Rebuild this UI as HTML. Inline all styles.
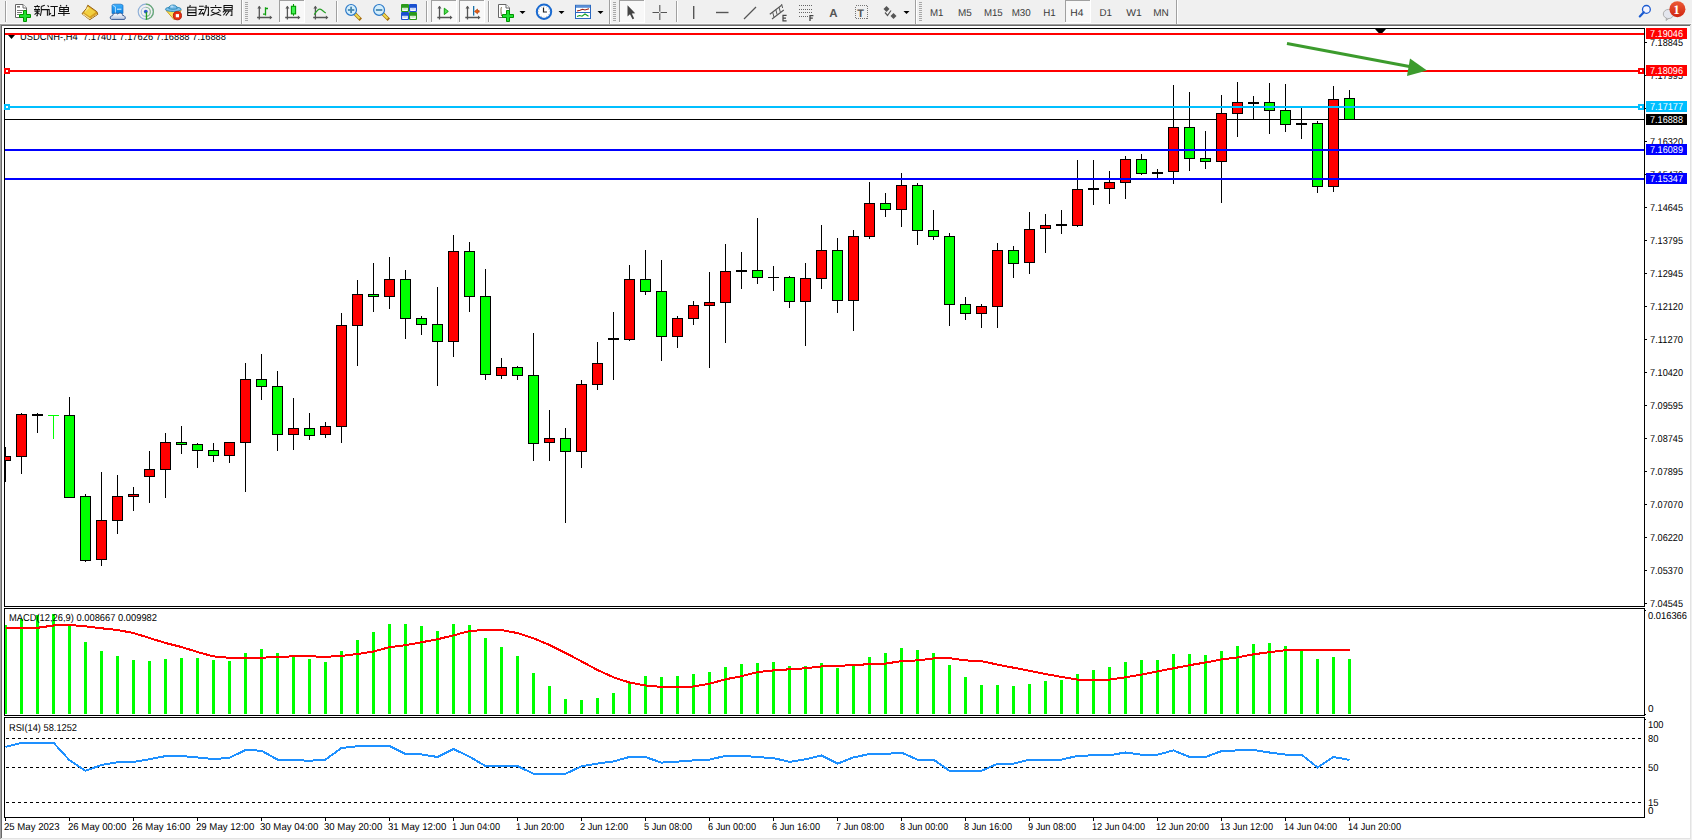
<!DOCTYPE html><html><head><meta charset="utf-8"><style>
html,body{margin:0;padding:0;width:1692px;height:840px;overflow:hidden;background:#f0f0f0;}
svg{display:block;font-family:"Liberation Sans", sans-serif;} text{text-rendering:geometricPrecision;}
</style></head><body>
<svg width="1692" height="840" viewBox="0 0 1692 840" shape-rendering="crispEdges">
<rect x="0" y="0" width="1692" height="840" fill="#f0f0f0"/>
<rect x="0" y="24" width="1691" height="1" fill="#a0a0a0"/>
<rect x="0" y="24" width="1" height="815" fill="#a0a0a0"/>
<rect x="1" y="25" width="1690" height="1" fill="#696969"/>
<rect x="1" y="25" width="1" height="813" fill="#696969"/>
<rect x="0" y="23" width="1692" height="1" fill="#f8f8f8"/>
<rect x="2" y="26" width="1688" height="812" fill="#ffffff"/>
<rect x="1690" y="25" width="1" height="814" fill="#e3e3e3"/>
<rect x="1" y="838" width="1690" height="1" fill="#e3e3e3"/>
<rect x="4" y="28" width="1641" height="1" fill="#000"/>
<rect x="4" y="606" width="1641" height="1" fill="#000"/>
<rect x="4" y="28" width="1" height="579" fill="#000"/>
<rect x="1644" y="28" width="1" height="579" fill="#000"/>
<rect x="4" y="608" width="1641" height="1" fill="#000"/>
<rect x="4" y="715" width="1641" height="1" fill="#000"/>
<rect x="4" y="608" width="1" height="108" fill="#000"/>
<rect x="1644" y="608" width="1" height="108" fill="#000"/>
<rect x="4" y="717" width="1641" height="1" fill="#000"/>
<rect x="4" y="817" width="1641" height="1" fill="#000"/>
<rect x="4" y="717" width="1" height="101" fill="#000"/>
<rect x="1644" y="717" width="1" height="101" fill="#000"/>
<defs><clipPath id="cm"><rect x="5" y="29" width="1639" height="577"/></clipPath>
<clipPath id="cmacd"><rect x="5" y="609" width="1639" height="105"/></clipPath>
<clipPath id="crsi"><rect x="5" y="718" width="1639" height="99"/></clipPath></defs>
<g clip-path="url(#cm)">
<rect x="5" y="119" width="1639" height="1" fill="#000"/>
<rect x="5" y="447" width="1" height="35" fill="#000"/>
<rect x="0" y="456" width="11" height="5" fill="#000"/>
<rect x="1" y="457" width="9" height="3" fill="#ff0000"/>
<rect x="21" y="413" width="1" height="61" fill="#000"/>
<rect x="16" y="414" width="11" height="43" fill="#000"/>
<rect x="17" y="415" width="9" height="41" fill="#ff0000"/>
<rect x="37" y="413" width="1" height="20" fill="#000"/>
<rect x="32" y="414" width="11" height="2" fill="#000"/>
<rect x="53" y="415" width="1" height="24" fill="#00ff00"/>
<rect x="48" y="415" width="11" height="1" fill="#00ff00"/>
<rect x="69" y="397" width="1" height="101" fill="#000"/>
<rect x="64" y="415" width="11" height="83" fill="#000"/>
<rect x="65" y="416" width="9" height="81" fill="#00ff00"/>
<rect x="85" y="494" width="1" height="68" fill="#000"/>
<rect x="80" y="496" width="11" height="65" fill="#000"/>
<rect x="81" y="497" width="9" height="63" fill="#00ff00"/>
<rect x="101" y="472" width="1" height="94" fill="#000"/>
<rect x="96" y="520" width="11" height="40" fill="#000"/>
<rect x="97" y="521" width="9" height="38" fill="#ff0000"/>
<rect x="117" y="475" width="1" height="59" fill="#000"/>
<rect x="112" y="496" width="11" height="25" fill="#000"/>
<rect x="113" y="497" width="9" height="23" fill="#ff0000"/>
<rect x="133" y="487" width="1" height="24" fill="#000"/>
<rect x="128" y="494" width="11" height="3" fill="#000"/>
<rect x="129" y="495" width="9" height="1" fill="#ff0000"/>
<rect x="149" y="451" width="1" height="52" fill="#000"/>
<rect x="144" y="469" width="11" height="8" fill="#000"/>
<rect x="145" y="470" width="9" height="6" fill="#ff0000"/>
<rect x="165" y="433" width="1" height="65" fill="#000"/>
<rect x="160" y="442" width="11" height="28" fill="#000"/>
<rect x="161" y="443" width="9" height="26" fill="#ff0000"/>
<rect x="181" y="426" width="1" height="28" fill="#000"/>
<rect x="176" y="442" width="11" height="3" fill="#000"/>
<rect x="177" y="443" width="9" height="1" fill="#00ff00"/>
<rect x="197" y="443" width="1" height="25" fill="#000"/>
<rect x="192" y="444" width="11" height="7" fill="#000"/>
<rect x="193" y="445" width="9" height="5" fill="#00ff00"/>
<rect x="213" y="443" width="1" height="19" fill="#000"/>
<rect x="208" y="450" width="11" height="6" fill="#000"/>
<rect x="209" y="451" width="9" height="4" fill="#00ff00"/>
<rect x="229" y="442" width="1" height="21" fill="#000"/>
<rect x="224" y="442" width="11" height="14" fill="#000"/>
<rect x="225" y="443" width="9" height="12" fill="#ff0000"/>
<rect x="245" y="363" width="1" height="129" fill="#000"/>
<rect x="240" y="379" width="11" height="64" fill="#000"/>
<rect x="241" y="380" width="9" height="62" fill="#ff0000"/>
<rect x="261" y="354" width="1" height="46" fill="#000"/>
<rect x="256" y="379" width="11" height="8" fill="#000"/>
<rect x="257" y="380" width="9" height="6" fill="#00ff00"/>
<rect x="277" y="371" width="1" height="80" fill="#000"/>
<rect x="272" y="386" width="11" height="49" fill="#000"/>
<rect x="273" y="387" width="9" height="47" fill="#00ff00"/>
<rect x="293" y="398" width="1" height="52" fill="#000"/>
<rect x="288" y="428" width="11" height="7" fill="#000"/>
<rect x="289" y="429" width="9" height="5" fill="#ff0000"/>
<rect x="309" y="413" width="1" height="27" fill="#000"/>
<rect x="304" y="428" width="11" height="8" fill="#000"/>
<rect x="305" y="429" width="9" height="6" fill="#00ff00"/>
<rect x="325" y="422" width="1" height="16" fill="#000"/>
<rect x="320" y="426" width="11" height="9" fill="#000"/>
<rect x="321" y="427" width="9" height="7" fill="#ff0000"/>
<rect x="341" y="313" width="1" height="130" fill="#000"/>
<rect x="336" y="325" width="11" height="102" fill="#000"/>
<rect x="337" y="326" width="9" height="100" fill="#ff0000"/>
<rect x="357" y="280" width="1" height="86" fill="#000"/>
<rect x="352" y="294" width="11" height="32" fill="#000"/>
<rect x="353" y="295" width="9" height="30" fill="#ff0000"/>
<rect x="373" y="263" width="1" height="49" fill="#000"/>
<rect x="368" y="294" width="11" height="3" fill="#000"/>
<rect x="369" y="295" width="9" height="1" fill="#00ff00"/>
<rect x="389" y="257" width="1" height="52" fill="#000"/>
<rect x="384" y="279" width="11" height="18" fill="#000"/>
<rect x="385" y="280" width="9" height="16" fill="#ff0000"/>
<rect x="405" y="270" width="1" height="69" fill="#000"/>
<rect x="400" y="279" width="11" height="40" fill="#000"/>
<rect x="401" y="280" width="9" height="38" fill="#00ff00"/>
<rect x="421" y="316" width="1" height="19" fill="#000"/>
<rect x="416" y="318" width="11" height="7" fill="#000"/>
<rect x="417" y="319" width="9" height="5" fill="#00ff00"/>
<rect x="437" y="287" width="1" height="99" fill="#000"/>
<rect x="432" y="324" width="11" height="18" fill="#000"/>
<rect x="433" y="325" width="9" height="16" fill="#00ff00"/>
<rect x="453" y="235" width="1" height="122" fill="#000"/>
<rect x="448" y="251" width="11" height="91" fill="#000"/>
<rect x="449" y="252" width="9" height="89" fill="#ff0000"/>
<rect x="469" y="242" width="1" height="70" fill="#000"/>
<rect x="464" y="251" width="11" height="46" fill="#000"/>
<rect x="465" y="252" width="9" height="44" fill="#00ff00"/>
<rect x="485" y="269" width="1" height="111" fill="#000"/>
<rect x="480" y="296" width="11" height="79" fill="#000"/>
<rect x="481" y="297" width="9" height="77" fill="#00ff00"/>
<rect x="501" y="358" width="1" height="21" fill="#000"/>
<rect x="496" y="367" width="11" height="9" fill="#000"/>
<rect x="497" y="368" width="9" height="7" fill="#ff0000"/>
<rect x="517" y="366" width="1" height="14" fill="#000"/>
<rect x="512" y="367" width="11" height="9" fill="#000"/>
<rect x="513" y="368" width="9" height="7" fill="#00ff00"/>
<rect x="533" y="333" width="1" height="128" fill="#000"/>
<rect x="528" y="375" width="11" height="69" fill="#000"/>
<rect x="529" y="376" width="9" height="67" fill="#00ff00"/>
<rect x="549" y="410" width="1" height="51" fill="#000"/>
<rect x="544" y="438" width="11" height="5" fill="#000"/>
<rect x="545" y="439" width="9" height="3" fill="#ff0000"/>
<rect x="565" y="428" width="1" height="95" fill="#000"/>
<rect x="560" y="438" width="11" height="14" fill="#000"/>
<rect x="561" y="439" width="9" height="12" fill="#00ff00"/>
<rect x="581" y="380" width="1" height="88" fill="#000"/>
<rect x="576" y="384" width="11" height="68" fill="#000"/>
<rect x="577" y="385" width="9" height="66" fill="#ff0000"/>
<rect x="597" y="342" width="1" height="48" fill="#000"/>
<rect x="592" y="363" width="11" height="22" fill="#000"/>
<rect x="593" y="364" width="9" height="20" fill="#ff0000"/>
<rect x="613" y="312" width="1" height="68" fill="#000"/>
<rect x="608" y="338" width="11" height="2" fill="#000"/>
<rect x="629" y="265" width="1" height="76" fill="#000"/>
<rect x="624" y="279" width="11" height="61" fill="#000"/>
<rect x="625" y="280" width="9" height="59" fill="#ff0000"/>
<rect x="645" y="250" width="1" height="45" fill="#000"/>
<rect x="640" y="279" width="11" height="13" fill="#000"/>
<rect x="641" y="280" width="9" height="11" fill="#00ff00"/>
<rect x="661" y="260" width="1" height="101" fill="#000"/>
<rect x="656" y="291" width="11" height="46" fill="#000"/>
<rect x="657" y="292" width="9" height="44" fill="#00ff00"/>
<rect x="677" y="316" width="1" height="32" fill="#000"/>
<rect x="672" y="318" width="11" height="19" fill="#000"/>
<rect x="673" y="319" width="9" height="17" fill="#ff0000"/>
<rect x="693" y="301" width="1" height="24" fill="#000"/>
<rect x="688" y="305" width="11" height="14" fill="#000"/>
<rect x="689" y="306" width="9" height="12" fill="#ff0000"/>
<rect x="709" y="272" width="1" height="96" fill="#000"/>
<rect x="704" y="302" width="11" height="4" fill="#000"/>
<rect x="705" y="303" width="9" height="2" fill="#ff0000"/>
<rect x="725" y="244" width="1" height="99" fill="#000"/>
<rect x="720" y="271" width="11" height="32" fill="#000"/>
<rect x="721" y="272" width="9" height="30" fill="#ff0000"/>
<rect x="741" y="252" width="1" height="37" fill="#000"/>
<rect x="736" y="270" width="11" height="2" fill="#000"/>
<rect x="757" y="218" width="1" height="66" fill="#000"/>
<rect x="752" y="270" width="11" height="8" fill="#000"/>
<rect x="753" y="271" width="9" height="6" fill="#00ff00"/>
<rect x="773" y="266" width="1" height="25" fill="#000"/>
<rect x="768" y="277" width="11" height="1" fill="#000"/>
<rect x="789" y="276" width="1" height="32" fill="#000"/>
<rect x="784" y="277" width="11" height="25" fill="#000"/>
<rect x="785" y="278" width="9" height="23" fill="#00ff00"/>
<rect x="805" y="263" width="1" height="83" fill="#000"/>
<rect x="800" y="278" width="11" height="24" fill="#000"/>
<rect x="801" y="279" width="9" height="22" fill="#ff0000"/>
<rect x="821" y="225" width="1" height="64" fill="#000"/>
<rect x="816" y="250" width="11" height="29" fill="#000"/>
<rect x="817" y="251" width="9" height="27" fill="#ff0000"/>
<rect x="837" y="238" width="1" height="75" fill="#000"/>
<rect x="832" y="250" width="11" height="51" fill="#000"/>
<rect x="833" y="251" width="9" height="49" fill="#00ff00"/>
<rect x="853" y="230" width="1" height="101" fill="#000"/>
<rect x="848" y="236" width="11" height="65" fill="#000"/>
<rect x="849" y="237" width="9" height="63" fill="#ff0000"/>
<rect x="869" y="182" width="1" height="57" fill="#000"/>
<rect x="864" y="203" width="11" height="34" fill="#000"/>
<rect x="865" y="204" width="9" height="32" fill="#ff0000"/>
<rect x="885" y="193" width="1" height="24" fill="#000"/>
<rect x="880" y="203" width="11" height="7" fill="#000"/>
<rect x="881" y="204" width="9" height="5" fill="#00ff00"/>
<rect x="901" y="173" width="1" height="54" fill="#000"/>
<rect x="896" y="185" width="11" height="25" fill="#000"/>
<rect x="897" y="186" width="9" height="23" fill="#ff0000"/>
<rect x="917" y="183" width="1" height="62" fill="#000"/>
<rect x="912" y="185" width="11" height="46" fill="#000"/>
<rect x="913" y="186" width="9" height="44" fill="#00ff00"/>
<rect x="933" y="210" width="1" height="30" fill="#000"/>
<rect x="928" y="230" width="11" height="7" fill="#000"/>
<rect x="929" y="231" width="9" height="5" fill="#00ff00"/>
<rect x="949" y="233" width="1" height="93" fill="#000"/>
<rect x="944" y="236" width="11" height="69" fill="#000"/>
<rect x="945" y="237" width="9" height="67" fill="#00ff00"/>
<rect x="965" y="297" width="1" height="23" fill="#000"/>
<rect x="960" y="304" width="11" height="10" fill="#000"/>
<rect x="961" y="305" width="9" height="8" fill="#00ff00"/>
<rect x="981" y="304" width="1" height="24" fill="#000"/>
<rect x="976" y="306" width="11" height="8" fill="#000"/>
<rect x="977" y="307" width="9" height="6" fill="#ff0000"/>
<rect x="997" y="243" width="1" height="85" fill="#000"/>
<rect x="992" y="250" width="11" height="57" fill="#000"/>
<rect x="993" y="251" width="9" height="55" fill="#ff0000"/>
<rect x="1013" y="246" width="1" height="32" fill="#000"/>
<rect x="1008" y="250" width="11" height="14" fill="#000"/>
<rect x="1009" y="251" width="9" height="12" fill="#00ff00"/>
<rect x="1029" y="212" width="1" height="62" fill="#000"/>
<rect x="1024" y="229" width="11" height="34" fill="#000"/>
<rect x="1025" y="230" width="9" height="32" fill="#ff0000"/>
<rect x="1045" y="214" width="1" height="39" fill="#000"/>
<rect x="1040" y="225" width="11" height="4" fill="#000"/>
<rect x="1041" y="226" width="9" height="2" fill="#ff0000"/>
<rect x="1061" y="210" width="1" height="24" fill="#000"/>
<rect x="1056" y="224" width="11" height="2" fill="#000"/>
<rect x="1077" y="160" width="1" height="67" fill="#000"/>
<rect x="1072" y="189" width="11" height="37" fill="#000"/>
<rect x="1073" y="190" width="9" height="35" fill="#ff0000"/>
<rect x="1093" y="160" width="1" height="45" fill="#000"/>
<rect x="1088" y="188" width="11" height="2" fill="#000"/>
<rect x="1109" y="171" width="1" height="33" fill="#000"/>
<rect x="1104" y="182" width="11" height="7" fill="#000"/>
<rect x="1105" y="183" width="9" height="5" fill="#ff0000"/>
<rect x="1125" y="156" width="1" height="43" fill="#000"/>
<rect x="1120" y="159" width="11" height="24" fill="#000"/>
<rect x="1121" y="160" width="9" height="22" fill="#ff0000"/>
<rect x="1141" y="154" width="1" height="21" fill="#000"/>
<rect x="1136" y="159" width="11" height="15" fill="#000"/>
<rect x="1137" y="160" width="9" height="13" fill="#00ff00"/>
<rect x="1157" y="169" width="1" height="10" fill="#000"/>
<rect x="1152" y="172" width="11" height="2" fill="#000"/>
<rect x="1173" y="85" width="1" height="99" fill="#000"/>
<rect x="1168" y="127" width="11" height="45" fill="#000"/>
<rect x="1169" y="128" width="9" height="43" fill="#ff0000"/>
<rect x="1189" y="92" width="1" height="79" fill="#000"/>
<rect x="1184" y="127" width="11" height="32" fill="#000"/>
<rect x="1185" y="128" width="9" height="30" fill="#00ff00"/>
<rect x="1205" y="131" width="1" height="38" fill="#000"/>
<rect x="1200" y="158" width="11" height="4" fill="#000"/>
<rect x="1201" y="159" width="9" height="2" fill="#00ff00"/>
<rect x="1221" y="95" width="1" height="108" fill="#000"/>
<rect x="1216" y="113" width="11" height="49" fill="#000"/>
<rect x="1217" y="114" width="9" height="47" fill="#ff0000"/>
<rect x="1237" y="82" width="1" height="55" fill="#000"/>
<rect x="1232" y="102" width="11" height="12" fill="#000"/>
<rect x="1233" y="103" width="9" height="10" fill="#ff0000"/>
<rect x="1253" y="96" width="1" height="24" fill="#000"/>
<rect x="1248" y="102" width="11" height="2" fill="#000"/>
<rect x="1269" y="83" width="1" height="51" fill="#000"/>
<rect x="1264" y="102" width="11" height="9" fill="#000"/>
<rect x="1265" y="103" width="9" height="7" fill="#00ff00"/>
<rect x="1285" y="84" width="1" height="48" fill="#000"/>
<rect x="1280" y="110" width="11" height="15" fill="#000"/>
<rect x="1281" y="111" width="9" height="13" fill="#00ff00"/>
<rect x="1301" y="108" width="1" height="31" fill="#000"/>
<rect x="1296" y="123" width="11" height="2" fill="#000"/>
<rect x="1317" y="121" width="1" height="72" fill="#000"/>
<rect x="1312" y="123" width="11" height="64" fill="#000"/>
<rect x="1313" y="124" width="9" height="62" fill="#00ff00"/>
<rect x="1333" y="86" width="1" height="106" fill="#000"/>
<rect x="1328" y="99" width="11" height="88" fill="#000"/>
<rect x="1329" y="100" width="9" height="86" fill="#ff0000"/>
<rect x="1349" y="90" width="1" height="30" fill="#000"/>
<rect x="1344" y="98" width="11" height="22" fill="#000"/>
<rect x="1345" y="99" width="9" height="20" fill="#00ff00"/>
<rect x="5" y="33" width="1639" height="2" fill="#ff0000"/>
<rect x="5" y="70" width="1639" height="2" fill="#ff0000"/>
<rect x="5" y="106" width="1639" height="2" fill="#00bfff"/>
<rect x="5" y="149" width="1639" height="2" fill="#0000ff"/>
<rect x="5" y="178" width="1639" height="2" fill="#0000ff"/>
<rect x="1638" y="68" width="6" height="6" fill="#ff0000"/>
<rect x="1640" y="70" width="2" height="2" fill="#fff"/>
<rect x="1638" y="104" width="6" height="6" fill="#00bfff"/>
<rect x="1640" y="106" width="2" height="2" fill="#fff"/>
<path d="M1375 29 L1386 29 L1380.5 35 Z" fill="#000" shape-rendering="auto"/>
<g shape-rendering="auto"><line x1="1287" y1="43.5" x2="1412" y2="67" stroke="#3c9b2d" stroke-width="3"/>
<path d="M1427 70.5 L1410 58.5 L1407 76 Z" fill="#3c9b2d"/></g>
</g>
<rect x="4" y="68" width="6" height="6" fill="#ff0000"/>
<rect x="6" y="70" width="2" height="2" fill="#fff"/>
<rect x="4" y="104" width="6" height="6" fill="#00bfff"/>
<rect x="6" y="106" width="2" height="2" fill="#fff"/>
<path d="M8 35 L15 35 L11.5 39 Z" fill="#000" shape-rendering="auto"/>
<text x="20" y="40" font-size="10" fill="#000" textLength="206" lengthAdjust="spacingAndGlyphs">USDCNH-,H4&#160;&#160;7.17401 7.17626 7.16888 7.16888</text>
<rect x="5" y="33" width="1639" height="2" fill="#ff0000"/>
<rect x="1645" y="42" width="2" height="1" fill="#000"/>
<text x="1650" y="46" font-size="10" fill="#000" textLength="33" lengthAdjust="spacingAndGlyphs">7.18845</text>
<rect x="1645" y="75" width="2" height="1" fill="#000"/>
<text x="1650" y="79" font-size="10" fill="#000" textLength="33" lengthAdjust="spacingAndGlyphs">7.17995</text>
<rect x="1645" y="108" width="2" height="1" fill="#000"/>
<text x="1650" y="112" font-size="10" fill="#000" textLength="33" lengthAdjust="spacingAndGlyphs">7.17145</text>
<rect x="1645" y="141" width="2" height="1" fill="#000"/>
<text x="1650" y="145" font-size="10" fill="#000" textLength="33" lengthAdjust="spacingAndGlyphs">7.16320</text>
<rect x="1645" y="174" width="2" height="1" fill="#000"/>
<text x="1650" y="178" font-size="10" fill="#000" textLength="33" lengthAdjust="spacingAndGlyphs">7.15470</text>
<rect x="1645" y="207" width="2" height="1" fill="#000"/>
<text x="1650" y="211" font-size="10" fill="#000" textLength="33" lengthAdjust="spacingAndGlyphs">7.14645</text>
<rect x="1645" y="240" width="2" height="1" fill="#000"/>
<text x="1650" y="244" font-size="10" fill="#000" textLength="33" lengthAdjust="spacingAndGlyphs">7.13795</text>
<rect x="1645" y="273" width="2" height="1" fill="#000"/>
<text x="1650" y="277" font-size="10" fill="#000" textLength="33" lengthAdjust="spacingAndGlyphs">7.12945</text>
<rect x="1645" y="306" width="2" height="1" fill="#000"/>
<text x="1650" y="310" font-size="10" fill="#000" textLength="33" lengthAdjust="spacingAndGlyphs">7.12120</text>
<rect x="1645" y="339" width="2" height="1" fill="#000"/>
<text x="1650" y="343" font-size="10" fill="#000" textLength="33" lengthAdjust="spacingAndGlyphs">7.11270</text>
<rect x="1645" y="372" width="2" height="1" fill="#000"/>
<text x="1650" y="376" font-size="10" fill="#000" textLength="33" lengthAdjust="spacingAndGlyphs">7.10420</text>
<rect x="1645" y="405" width="2" height="1" fill="#000"/>
<text x="1650" y="409" font-size="10" fill="#000" textLength="33" lengthAdjust="spacingAndGlyphs">7.09595</text>
<rect x="1645" y="438" width="2" height="1" fill="#000"/>
<text x="1650" y="442" font-size="10" fill="#000" textLength="33" lengthAdjust="spacingAndGlyphs">7.08745</text>
<rect x="1645" y="471" width="2" height="1" fill="#000"/>
<text x="1650" y="475" font-size="10" fill="#000" textLength="33" lengthAdjust="spacingAndGlyphs">7.07895</text>
<rect x="1645" y="504" width="2" height="1" fill="#000"/>
<text x="1650" y="508" font-size="10" fill="#000" textLength="33" lengthAdjust="spacingAndGlyphs">7.07070</text>
<rect x="1645" y="537" width="2" height="1" fill="#000"/>
<text x="1650" y="541" font-size="10" fill="#000" textLength="33" lengthAdjust="spacingAndGlyphs">7.06220</text>
<rect x="1645" y="570" width="2" height="1" fill="#000"/>
<text x="1650" y="574" font-size="10" fill="#000" textLength="33" lengthAdjust="spacingAndGlyphs">7.05370</text>
<rect x="1645" y="603" width="2" height="1" fill="#000"/>
<text x="1650" y="607" font-size="10" fill="#000" textLength="33" lengthAdjust="spacingAndGlyphs">7.04545</text>
<rect x="1646" y="28" width="41" height="11" fill="#ff0000"/>
<text x="1650" y="37" font-size="10" fill="#fff" textLength="33" lengthAdjust="spacingAndGlyphs">7.19046</text>
<rect x="1646" y="65" width="41" height="11" fill="#ff0000"/>
<text x="1650" y="74" font-size="10" fill="#fff" textLength="33" lengthAdjust="spacingAndGlyphs">7.18096</text>
<rect x="1646" y="101" width="41" height="11" fill="#00bfff"/>
<text x="1650" y="110" font-size="10" fill="#fff" textLength="33" lengthAdjust="spacingAndGlyphs">7.17177</text>
<rect x="1646" y="114" width="41" height="11" fill="#000"/>
<text x="1650" y="123" font-size="10" fill="#fff" textLength="33" lengthAdjust="spacingAndGlyphs">7.16888</text>
<rect x="1646" y="144" width="41" height="11" fill="#0000ff"/>
<text x="1650" y="153" font-size="10" fill="#fff" textLength="33" lengthAdjust="spacingAndGlyphs">7.16089</text>
<rect x="1646" y="173" width="41" height="11" fill="#0000ff"/>
<text x="1650" y="182" font-size="10" fill="#fff" textLength="33" lengthAdjust="spacingAndGlyphs">7.15347</text>
<g clip-path="url(#cmacd)">
<rect x="4" y="625" width="3" height="89" fill="#00ff00"/>
<rect x="20" y="619" width="3" height="95" fill="#00ff00"/>
<rect x="36" y="615" width="3" height="99" fill="#00ff00"/>
<rect x="52" y="614" width="3" height="100" fill="#00ff00"/>
<rect x="68" y="624" width="3" height="90" fill="#00ff00"/>
<rect x="84" y="642" width="3" height="72" fill="#00ff00"/>
<rect x="100" y="651" width="3" height="63" fill="#00ff00"/>
<rect x="116" y="656" width="3" height="58" fill="#00ff00"/>
<rect x="132" y="660" width="3" height="54" fill="#00ff00"/>
<rect x="148" y="661" width="3" height="53" fill="#00ff00"/>
<rect x="164" y="659" width="3" height="55" fill="#00ff00"/>
<rect x="180" y="658" width="3" height="56" fill="#00ff00"/>
<rect x="196" y="658" width="3" height="56" fill="#00ff00"/>
<rect x="212" y="660" width="3" height="54" fill="#00ff00"/>
<rect x="228" y="661" width="3" height="53" fill="#00ff00"/>
<rect x="244" y="653" width="3" height="61" fill="#00ff00"/>
<rect x="260" y="649" width="3" height="65" fill="#00ff00"/>
<rect x="276" y="653" width="3" height="61" fill="#00ff00"/>
<rect x="292" y="657" width="3" height="57" fill="#00ff00"/>
<rect x="308" y="659" width="3" height="55" fill="#00ff00"/>
<rect x="324" y="662" width="3" height="52" fill="#00ff00"/>
<rect x="340" y="651" width="3" height="63" fill="#00ff00"/>
<rect x="356" y="640" width="3" height="74" fill="#00ff00"/>
<rect x="372" y="632" width="3" height="82" fill="#00ff00"/>
<rect x="388" y="624" width="3" height="90" fill="#00ff00"/>
<rect x="404" y="624" width="3" height="90" fill="#00ff00"/>
<rect x="420" y="626" width="3" height="88" fill="#00ff00"/>
<rect x="436" y="631" width="3" height="83" fill="#00ff00"/>
<rect x="452" y="624" width="3" height="90" fill="#00ff00"/>
<rect x="468" y="625" width="3" height="89" fill="#00ff00"/>
<rect x="484" y="638" width="3" height="76" fill="#00ff00"/>
<rect x="500" y="647" width="3" height="67" fill="#00ff00"/>
<rect x="516" y="656" width="3" height="58" fill="#00ff00"/>
<rect x="532" y="673" width="3" height="41" fill="#00ff00"/>
<rect x="548" y="686" width="3" height="28" fill="#00ff00"/>
<rect x="564" y="699" width="3" height="15" fill="#00ff00"/>
<rect x="580" y="700" width="3" height="14" fill="#00ff00"/>
<rect x="596" y="698" width="3" height="16" fill="#00ff00"/>
<rect x="612" y="693" width="3" height="21" fill="#00ff00"/>
<rect x="628" y="683" width="3" height="31" fill="#00ff00"/>
<rect x="644" y="676" width="3" height="38" fill="#00ff00"/>
<rect x="660" y="677" width="3" height="37" fill="#00ff00"/>
<rect x="676" y="676" width="3" height="38" fill="#00ff00"/>
<rect x="692" y="674" width="3" height="40" fill="#00ff00"/>
<rect x="708" y="672" width="3" height="42" fill="#00ff00"/>
<rect x="724" y="667" width="3" height="47" fill="#00ff00"/>
<rect x="740" y="664" width="3" height="50" fill="#00ff00"/>
<rect x="756" y="663" width="3" height="51" fill="#00ff00"/>
<rect x="772" y="662" width="3" height="52" fill="#00ff00"/>
<rect x="788" y="666" width="3" height="48" fill="#00ff00"/>
<rect x="804" y="666" width="3" height="48" fill="#00ff00"/>
<rect x="820" y="663" width="3" height="51" fill="#00ff00"/>
<rect x="836" y="668" width="3" height="46" fill="#00ff00"/>
<rect x="852" y="664" width="3" height="50" fill="#00ff00"/>
<rect x="868" y="657" width="3" height="57" fill="#00ff00"/>
<rect x="884" y="653" width="3" height="61" fill="#00ff00"/>
<rect x="900" y="648" width="3" height="66" fill="#00ff00"/>
<rect x="916" y="650" width="3" height="64" fill="#00ff00"/>
<rect x="932" y="653" width="3" height="61" fill="#00ff00"/>
<rect x="948" y="665" width="3" height="49" fill="#00ff00"/>
<rect x="964" y="677" width="3" height="37" fill="#00ff00"/>
<rect x="980" y="685" width="3" height="29" fill="#00ff00"/>
<rect x="996" y="685" width="3" height="29" fill="#00ff00"/>
<rect x="1012" y="686" width="3" height="28" fill="#00ff00"/>
<rect x="1028" y="684" width="3" height="30" fill="#00ff00"/>
<rect x="1044" y="681" width="3" height="33" fill="#00ff00"/>
<rect x="1060" y="680" width="3" height="34" fill="#00ff00"/>
<rect x="1076" y="674" width="3" height="40" fill="#00ff00"/>
<rect x="1092" y="670" width="3" height="44" fill="#00ff00"/>
<rect x="1108" y="667" width="3" height="47" fill="#00ff00"/>
<rect x="1124" y="662" width="3" height="52" fill="#00ff00"/>
<rect x="1140" y="660" width="3" height="54" fill="#00ff00"/>
<rect x="1156" y="660" width="3" height="54" fill="#00ff00"/>
<rect x="1172" y="654" width="3" height="60" fill="#00ff00"/>
<rect x="1188" y="654" width="3" height="60" fill="#00ff00"/>
<rect x="1204" y="655" width="3" height="59" fill="#00ff00"/>
<rect x="1220" y="651" width="3" height="63" fill="#00ff00"/>
<rect x="1236" y="646" width="3" height="68" fill="#00ff00"/>
<rect x="1252" y="644" width="3" height="70" fill="#00ff00"/>
<rect x="1268" y="643" width="3" height="71" fill="#00ff00"/>
<rect x="1284" y="646" width="3" height="68" fill="#00ff00"/>
<rect x="1300" y="651" width="3" height="63" fill="#00ff00"/>
<rect x="1316" y="659" width="3" height="55" fill="#00ff00"/>
<rect x="1332" y="657" width="3" height="57" fill="#00ff00"/>
<rect x="1348" y="659" width="3" height="55" fill="#00ff00"/>
<polyline points="5.5,627.8 21.5,627.8 37.5,627.8 53.5,625.5 69.5,625 85.5,626.3 101.5,628.3 117.5,630 133.5,633 149.5,638 165.5,643 181.5,647 197.5,652 213.5,656.4 229.5,657.8 245.5,657.8 261.5,657.7 277.5,657 293.5,656.3 309.5,656.3 325.5,656.8 341.5,655.9 357.5,654 373.5,651.5 389.5,647.2 405.5,645.2 421.5,642.3 437.5,639.2 453.5,635.4 469.5,631 485.5,629.9 501.5,630 517.5,633.1 533.5,638.3 549.5,645 565.5,652.9 581.5,661.4 597.5,670 613.5,677.3 629.5,682.5 645.5,685.5 661.5,686.9 677.5,686.9 693.5,686.5 709.5,683.7 725.5,679.3 741.5,676.2 757.5,672.1 773.5,670.4 789.5,669.3 805.5,668.3 821.5,666.4 837.5,665.8 853.5,665.2 869.5,664.1 885.5,663.6 901.5,661.1 917.5,660.4 933.5,658.4 949.5,658.1 965.5,660.4 981.5,661.1 997.5,664.6 1013.5,667.7 1029.5,670.8 1045.5,674 1061.5,676.9 1077.5,679.6 1093.5,679.6 1109.5,679.6 1125.5,677.3 1141.5,674.6 1157.5,671.4 1173.5,668.3 1189.5,665.2 1205.5,662.5 1221.5,659.4 1237.5,657.4 1253.5,654.3 1269.5,652.2 1285.5,650.2 1301.5,649.9 1317.5,649.9 1333.5,649.9 1349.5,649.9" fill="none" stroke="#ff0000" stroke-width="2" shape-rendering="crispEdges"/>
</g>
<text x="9" y="621" font-size="10" fill="#000" textLength="148" lengthAdjust="spacingAndGlyphs">MACD(12,26,9) 0.008667 0.009982</text>
<rect x="1645" y="610" width="1" height="1" fill="#000"/><rect x="1645" y="714" width="1" height="1" fill="#000"/><rect x="1645" y="719" width="1" height="1" fill="#000"/>
<text x="1648" y="619" font-size="10" fill="#000" textLength="39" lengthAdjust="spacingAndGlyphs">0.016366</text>
<text x="1648" y="712" font-size="10" fill="#000">0</text>
<g clip-path="url(#crsi)">
<line x1="6" y1="738.5" x2="1642" y2="738.5" stroke="#000" stroke-width="1" stroke-dasharray="3 3"/>
<line x1="6" y1="767.5" x2="1642" y2="767.5" stroke="#000" stroke-width="1" stroke-dasharray="3 3"/>
<line x1="6" y1="802.5" x2="1642" y2="802.5" stroke="#000" stroke-width="1" stroke-dasharray="3 3"/>
<polyline points="5.5,746.8 21.5,743 37.5,742.7 53.5,742.7 69.5,760.3 85.5,770.8 101.5,765 117.5,762.2 133.5,761.9 149.5,759.2 165.5,756.1 181.5,756 197.5,757.5 213.5,759.1 229.5,757.8 245.5,750 261.5,750.7 277.5,759.6 293.5,759.9 309.5,760.8 325.5,759.6 341.5,748 357.5,746.2 373.5,745.9 389.5,745.9 405.5,754 421.5,754.4 437.5,757 453.5,749 469.5,756.7 485.5,766 501.5,766 517.5,766 533.5,773.8 549.5,773.8 565.5,773.8 581.5,766.3 597.5,763.6 613.5,761.4 629.5,757 645.5,757.1 661.5,762.6 677.5,761.6 693.5,760.4 709.5,759.6 725.5,755.9 741.5,755.6 757.5,757.1 773.5,758.1 789.5,761.9 805.5,759.3 821.5,755.5 837.5,763.6 853.5,757.4 869.5,754 885.5,754 901.5,752.6 917.5,759.6 933.5,759.6 949.5,770.8 965.5,770.8 981.5,770.8 997.5,763.8 1013.5,763.6 1029.5,759.6 1045.5,759.6 1061.5,759.6 1077.5,755.9 1093.5,755.3 1109.5,755.2 1125.5,752.5 1141.5,754.7 1157.5,754.7 1173.5,750.4 1189.5,757 1205.5,757 1221.5,751.1 1237.5,750.4 1253.5,750 1269.5,752.5 1285.5,754.6 1301.5,754.6 1317.5,767.4 1333.5,757 1349.5,759.9" fill="none" stroke="#1e90ff" stroke-width="2" shape-rendering="crispEdges"/>
</g>
<text x="9" y="731" font-size="10" fill="#000" textLength="68" lengthAdjust="spacingAndGlyphs">RSI(14) 58.1252</text>
<text x="1648" y="728" font-size="10" fill="#000" textLength="15.5" lengthAdjust="spacingAndGlyphs">100</text>
<text x="1648" y="742" font-size="10" fill="#000" textLength="10.5" lengthAdjust="spacingAndGlyphs">80</text>
<text x="1648" y="771" font-size="10" fill="#000" textLength="10.5" lengthAdjust="spacingAndGlyphs">50</text>
<text x="1648" y="806" font-size="10" fill="#000" textLength="10.5" lengthAdjust="spacingAndGlyphs">15</text>
<text x="1648" y="814" font-size="10" fill="#000" textLength="5.5" lengthAdjust="spacingAndGlyphs">0</text>
<rect x="5" y="818" width="1" height="3" fill="#000"/>
<text x="4" y="830" font-size="10" fill="#000" textLength="55.5" lengthAdjust="spacingAndGlyphs">25 May 2023</text>
<rect x="69" y="818" width="1" height="3" fill="#000"/>
<text x="68" y="830" font-size="10" fill="#000" textLength="58.3" lengthAdjust="spacingAndGlyphs">26 May 00:00</text>
<rect x="133" y="818" width="1" height="3" fill="#000"/>
<text x="132" y="830" font-size="10" fill="#000" textLength="58.3" lengthAdjust="spacingAndGlyphs">26 May 16:00</text>
<rect x="197" y="818" width="1" height="3" fill="#000"/>
<text x="196" y="830" font-size="10" fill="#000" textLength="58.3" lengthAdjust="spacingAndGlyphs">29 May 12:00</text>
<rect x="261" y="818" width="1" height="3" fill="#000"/>
<text x="260" y="830" font-size="10" fill="#000" textLength="58.3" lengthAdjust="spacingAndGlyphs">30 May 04:00</text>
<rect x="325" y="818" width="1" height="3" fill="#000"/>
<text x="324" y="830" font-size="10" fill="#000" textLength="58.3" lengthAdjust="spacingAndGlyphs">30 May 20:00</text>
<rect x="389" y="818" width="1" height="3" fill="#000"/>
<text x="388" y="830" font-size="10" fill="#000" textLength="58.3" lengthAdjust="spacingAndGlyphs">31 May 12:00</text>
<rect x="453" y="818" width="1" height="3" fill="#000"/>
<text x="452" y="830" font-size="10" fill="#000" textLength="48" lengthAdjust="spacingAndGlyphs">1 Jun 04:00</text>
<rect x="517" y="818" width="1" height="3" fill="#000"/>
<text x="516" y="830" font-size="10" fill="#000" textLength="48" lengthAdjust="spacingAndGlyphs">1 Jun 20:00</text>
<rect x="581" y="818" width="1" height="3" fill="#000"/>
<text x="580" y="830" font-size="10" fill="#000" textLength="48" lengthAdjust="spacingAndGlyphs">2 Jun 12:00</text>
<rect x="645" y="818" width="1" height="3" fill="#000"/>
<text x="644" y="830" font-size="10" fill="#000" textLength="48" lengthAdjust="spacingAndGlyphs">5 Jun 08:00</text>
<rect x="709" y="818" width="1" height="3" fill="#000"/>
<text x="708" y="830" font-size="10" fill="#000" textLength="48" lengthAdjust="spacingAndGlyphs">6 Jun 00:00</text>
<rect x="773" y="818" width="1" height="3" fill="#000"/>
<text x="772" y="830" font-size="10" fill="#000" textLength="48" lengthAdjust="spacingAndGlyphs">6 Jun 16:00</text>
<rect x="837" y="818" width="1" height="3" fill="#000"/>
<text x="836" y="830" font-size="10" fill="#000" textLength="48" lengthAdjust="spacingAndGlyphs">7 Jun 08:00</text>
<rect x="901" y="818" width="1" height="3" fill="#000"/>
<text x="900" y="830" font-size="10" fill="#000" textLength="48" lengthAdjust="spacingAndGlyphs">8 Jun 00:00</text>
<rect x="965" y="818" width="1" height="3" fill="#000"/>
<text x="964" y="830" font-size="10" fill="#000" textLength="48" lengthAdjust="spacingAndGlyphs">8 Jun 16:00</text>
<rect x="1029" y="818" width="1" height="3" fill="#000"/>
<text x="1028" y="830" font-size="10" fill="#000" textLength="48" lengthAdjust="spacingAndGlyphs">9 Jun 08:00</text>
<rect x="1093" y="818" width="1" height="3" fill="#000"/>
<text x="1092" y="830" font-size="10" fill="#000" textLength="53" lengthAdjust="spacingAndGlyphs">12 Jun 04:00</text>
<rect x="1157" y="818" width="1" height="3" fill="#000"/>
<text x="1156" y="830" font-size="10" fill="#000" textLength="53" lengthAdjust="spacingAndGlyphs">12 Jun 20:00</text>
<rect x="1221" y="818" width="1" height="3" fill="#000"/>
<text x="1220" y="830" font-size="10" fill="#000" textLength="53" lengthAdjust="spacingAndGlyphs">13 Jun 12:00</text>
<rect x="1285" y="818" width="1" height="3" fill="#000"/>
<text x="1284" y="830" font-size="10" fill="#000" textLength="53" lengthAdjust="spacingAndGlyphs">14 Jun 04:00</text>
<rect x="1349" y="818" width="1" height="3" fill="#000"/>
<text x="1348" y="830" font-size="10" fill="#000" textLength="53" lengthAdjust="spacingAndGlyphs">14 Jun 20:00</text>
<g shape-rendering="auto">
<rect x="5" y="1" width="1" height="21" fill="#a0a0a0" shape-rendering="crispEdges"/>
<rect x="6" y="1" width="1" height="21" fill="#ffffff" shape-rendering="crispEdges"/>
<path d="M15.5 4.5 H23 L26.5 8 V17.5 H15.5 Z" fill="#fff" stroke="#666" stroke-width="1"/>
<path d="M23 4.5 V8 H26.5" fill="#fff" stroke="#666" stroke-width="1"/>
<rect x="17" y="6" width="3" height="1.6" fill="#777"/>
<rect x="17" y="10" width="6" height="1" fill="#777"/><rect x="17" y="12" width="5" height="1" fill="#777"/><rect x="17" y="14" width="2" height="1" fill="#777"/>
<path d="M23.5 10.5 H26.5 V14.5 H30.5 V17.5 H26.5 V21.5 H23.5 V17.5 H19.5 V14.5 H23.5 Z" fill="#22e030" stroke="#009400" stroke-width="1"/>
<path d="M37.3 5 V6.2 M34.1 6.4 H39.8 M35.4 7.6 L35.8 8.4 M38.8 7.6 L38.4 8.4 M34 9.6 H40 M34.5 11.3 H39.8 M37.3 9.6 V15.8 H36.2 M37 12.4 L34.6 14.6 M37.6 12.4 L39.6 14.4 M44.8 5.2 L41.3 6.6 M41.3 6.6 V11.5 L40.4 15.8 M41.3 9.6 H48.4 M47.4 9.6 V15.8 M47.6 5.2 L48.8 7 M47.8 9.6 H49.2 V14.8 L51 13.2 M50.4 6.4 H57.8 M54.5 6.4 V15.6 H51.4 M60.2 5.2 L61.2 6.4 M67 5.2 L66 6.4 M59.7 7.4 H68.4 V11.4 H59.7 Z M59.7 9.4 H68.4 M63.9 7.4 V16 M58 13.5 H69.8" stroke="#111" stroke-width="1.05" fill="none" stroke-linecap="butt"/>
<path d="M87.8 5.2 L96.9 11.7 L97.8 14.3 L89.8 19.7 L82 13.7 L86.6 8.2 Z" fill="#d8a020" stroke="#9a6410" stroke-width="1"/>
<path d="M87.9 6.4 L95.8 12 L89.8 16.6 L84 12.6 L87.2 8.8 Z" fill="#f2d040"/>
<path d="M87.6 6.8 L89 8 L85.4 11.6 L84.4 12.2 Z" fill="#fff6b0" opacity="0.8"/>
<path d="M82.9 13.9 L89.8 18.7" stroke="#f6e6a6" stroke-width="1.1"/>
<path d="M90.4 18.6 L97.1 14.2" stroke="#eee2b0" stroke-width="0.9" stroke-dasharray="1 0.8"/>
<defs><linearGradient id="cbx" x1="0" y1="0" x2="0" y2="1"><stop offset="0" stop-color="#3cb0ff"/><stop offset="1" stop-color="#0a80e0"/></linearGradient><linearGradient id="ccl" x1="0" y1="0" x2="0" y2="1"><stop offset="0" stop-color="#ffffff"/><stop offset="1" stop-color="#b8c6e0"/></linearGradient></defs>
<path d="M112 5 L114 4.2 H121 L123 5.2 V13.5 H112 Z" fill="url(#cbx)" stroke="#1a6ec0" stroke-width="0.7"/>
<path d="M112.6 5.2 L115.4 6.8 V13.2" stroke="#bfe6ff" stroke-width="0.9" fill="none"/>
<path d="M117 9.2 H121.4" stroke="#e8f6ff" stroke-width="1"/>
<path d="M111.6 19.4 C109.6 19.2 109.6 15.8 112.6 15.6 C112.8 13.2 116.4 12.2 117.8 14.2 C119 12.4 122.4 12.6 122.6 15.4 C125.2 15.2 126.2 18.8 124.4 19.4 Z" fill="url(#ccl)" stroke="#3a5a92" stroke-width="1"/>
<circle cx="145.8" cy="11.8" r="7.6" fill="none" stroke="#8fb0d8" stroke-width="1.2"/>
<path d="M145.8 4.2 A7.6 7.6 0 0 1 145.8 19.4" fill="none" stroke="#6aaa70" stroke-width="1.2"/>
<circle cx="145.8" cy="11.8" r="4.6" fill="none" stroke="#a8c0e0" stroke-width="1.1"/>
<path d="M145.8 7.2 A4.6 4.6 0 0 1 145.8 16.4" fill="none" stroke="#90c090" stroke-width="1.1"/>
<circle cx="145.8" cy="11.6" r="1.9" fill="#2a5cc8"/>
<rect x="145.8" y="12" width="1.3" height="7.6" fill="#20a020"/>
<defs><linearGradient id="fun" x1="0" y1="0" x2="1" y2="1"><stop offset="0" stop-color="#f8d838"/><stop offset="1" stop-color="#fff8a0"/></linearGradient></defs>
<path d="M166.2 10.6 H181.2 L174.2 19.8 Z" fill="url(#fun)" stroke="#c89418" stroke-width="0.9"/>
<ellipse cx="173.3" cy="9.2" rx="7.9" ry="2.3" fill="#80c4ee" stroke="#2a86b4" stroke-width="0.9"/>
<path d="M168.8 8.6 C168.8 3.8 177.2 3.8 177.2 8.6 C175 9.4 171 9.4 168.8 8.6 Z" fill="#78bcea" stroke="#2a86b4" stroke-width="0.9"/>
<ellipse cx="172" cy="6.4" rx="1.6" ry="1" fill="#b8e2fa"/>
<circle cx="177.4" cy="15.7" r="4.1" fill="#e83010" stroke="#a81808" stroke-width="0.9"/>
<rect x="175.8" y="14.1" width="3.2" height="3.2" fill="#fff"/>
<path d="M190.3 5 L189.8 6.8 M187.7 7.2 H196 V15.4 H187.7 Z M187.7 9.9 H196 M187.7 12.6 H196 M199 6.3 H203.7 M198.4 9.4 H204.2 M202 9.6 L199.2 14.2 L203.6 13.6 M202.4 12.2 L203.8 14.6 M204.3 7.2 H208.4 V15.4 L207 15 M206.1 5 V8.5 L203.4 15.6 M215.6 5 V6.6 M210.4 7.5 H221.6 M213.4 9.2 L211 11.4 M218.2 9.2 L220.6 11.4 M211.8 12 L221.2 15.6 M219.4 12 L210.6 15.6 M224 5.4 H232.2 V9.7 H224 Z M224 7.5 H232.2 M225.2 9.9 L222.8 12.4 M223.6 10.9 H231.9 V15.4 L230.4 15.2 M226.4 11.2 L223.4 15.2 M229.2 11.2 L225.8 15.6" stroke="#111" stroke-width="1.05" fill="none" stroke-linecap="butt"/>
<rect x="241" y="0" width="1" height="24" fill="#a0a0a0" shape-rendering="crispEdges"/>
<rect x="242" y="0" width="1" height="24" fill="#ffffff" shape-rendering="crispEdges"/>
<rect x="245" y="2" width="3" height="1" fill="#a8a8a8" shape-rendering="crispEdges"/>
<rect x="245" y="4" width="3" height="1" fill="#a8a8a8" shape-rendering="crispEdges"/>
<rect x="245" y="6" width="3" height="1" fill="#a8a8a8" shape-rendering="crispEdges"/>
<rect x="245" y="8" width="3" height="1" fill="#a8a8a8" shape-rendering="crispEdges"/>
<rect x="245" y="10" width="3" height="1" fill="#a8a8a8" shape-rendering="crispEdges"/>
<rect x="245" y="12" width="3" height="1" fill="#a8a8a8" shape-rendering="crispEdges"/>
<rect x="245" y="14" width="3" height="1" fill="#a8a8a8" shape-rendering="crispEdges"/>
<rect x="245" y="16" width="3" height="1" fill="#a8a8a8" shape-rendering="crispEdges"/>
<rect x="245" y="18" width="3" height="1" fill="#a8a8a8" shape-rendering="crispEdges"/>
<rect x="245" y="20" width="3" height="1" fill="#a8a8a8" shape-rendering="crispEdges"/>
<path d="M259.3 6.5 V19.5 M257.1 17.5 H270.8" stroke="#555" stroke-width="1.3" fill="none"/>
<path d="M257.3 8.5 L259.3 5.8 L261.3 8.5 Z" fill="#555"/>
<path d="M269.8 15.5 L272.3 17.5 L269.8 19.5 Z" fill="#555"/>
<path d="M265.5 7.3 V15.6 M263 14.2 H265.5 M265.5 8.5 H268" stroke="#10a010" stroke-width="1.3" fill="none"/>
<rect x="279" y="0" width="25" height="22" fill="#f8f8f8" shape-rendering="crispEdges"/>
<rect x="279" y="0" width="25" height="1" fill="#a0a0a0" shape-rendering="crispEdges"/>
<rect x="279" y="0" width="1" height="22" fill="#a0a0a0" shape-rendering="crispEdges"/>
<rect x="279" y="22" width="26" height="1" fill="#ffffff" shape-rendering="crispEdges"/>
<rect x="304" y="0" width="1" height="23" fill="#ffffff" shape-rendering="crispEdges"/>
<path d="M287.4 6.5 V19.5 M285.2 17.5 H298.9" stroke="#555" stroke-width="1.3" fill="none"/>
<path d="M285.4 8.5 L287.4 5.8 L289.4 8.5 Z" fill="#555"/>
<path d="M297.9 15.5 L300.4 17.5 L297.9 19.5 Z" fill="#555"/>
<rect x="291.4" y="6.3" width="4.2" height="7.6" fill="#40f050" stroke="#009a00" stroke-width="1.1"/>
<path d="M293.5 4 V6.3 M293.5 13.9 V15.8" stroke="#009a00" stroke-width="1.1"/>
<path d="M315.4 6.5 V19.5 M313.2 17.5 H326.9" stroke="#555" stroke-width="1.3" fill="none"/>
<path d="M313.4 8.5 L315.4 5.8 L317.4 8.5 Z" fill="#555"/>
<path d="M325.9 15.5 L328.4 17.5 L325.9 19.5 Z" fill="#555"/>
<path d="M314.2 14.6 C316 12 318 9 320 9.2 C322 9.4 323.5 12 325.8 13" stroke="#28a028" stroke-width="1.2" fill="none"/>
<rect x="336" y="1" width="1" height="21" fill="#a0a0a0" shape-rendering="crispEdges"/>
<rect x="337" y="1" width="1" height="21" fill="#ffffff" shape-rendering="crispEdges"/>
<path d="M354.6 13.5 L359.6 18.5" stroke="#a87010" stroke-width="3.4" stroke-linecap="square"/>
<path d="M354.6 13.5 L359.6 18.5" stroke="#f0dc50" stroke-width="1.8"/>
<circle cx="351.1" cy="9.9" r="5.4" fill="#d4eefc" stroke="#2a78c8" stroke-width="1.2"/>
<rect x="347.90000000000003" y="9.1" width="6.4" height="1.8" fill="#4a88b0"/>
<rect x="350.20000000000005" y="6.7" width="1.8" height="6.4" fill="#4a88b0"/>
<path d="M382.6 13.5 L387.6 18.5" stroke="#a87010" stroke-width="3.4" stroke-linecap="square"/>
<path d="M382.6 13.5 L387.6 18.5" stroke="#f0dc50" stroke-width="1.8"/>
<circle cx="379.1" cy="9.9" r="5.4" fill="#d4eefc" stroke="#2a78c8" stroke-width="1.2"/>
<rect x="375.90000000000003" y="9.1" width="6.4" height="1.8" fill="#4a88b0"/>
<rect x="401" y="4" width="8" height="8" rx="1" fill="#2a9a1a"/>
<rect x="402.2" y="7.8" width="5.6" height="3.2" fill="#ffffff"/>
<rect x="403.2" y="8.5" width="3.6" height="0.9" fill="#2a9a1a" opacity="0.5"/>
<rect x="409" y="4" width="8" height="8" rx="1" fill="#1a50d0"/>
<rect x="410.2" y="7.8" width="5.6" height="3.2" fill="#ffffff"/>
<rect x="411.2" y="8.5" width="3.6" height="0.9" fill="#1a50d0" opacity="0.5"/>
<rect x="401" y="12" width="8" height="8" rx="1" fill="#1a50d0"/>
<rect x="402.2" y="15.8" width="5.6" height="3.2" fill="#ffffff"/>
<rect x="403.2" y="16.5" width="3.6" height="0.9" fill="#1a50d0" opacity="0.5"/>
<rect x="409" y="12" width="8" height="8" rx="1" fill="#2a9a1a"/>
<rect x="410.2" y="15.8" width="5.6" height="3.2" fill="#ffffff"/>
<rect x="411.2" y="16.5" width="3.6" height="0.9" fill="#2a9a1a" opacity="0.5"/>
<rect x="426" y="1" width="1" height="21" fill="#a0a0a0" shape-rendering="crispEdges"/>
<rect x="427" y="1" width="1" height="21" fill="#ffffff" shape-rendering="crispEdges"/>
<rect x="431" y="0" width="25" height="22" fill="#f8f8f8" shape-rendering="crispEdges"/>
<rect x="431" y="0" width="25" height="1" fill="#a0a0a0" shape-rendering="crispEdges"/>
<rect x="431" y="0" width="1" height="22" fill="#a0a0a0" shape-rendering="crispEdges"/>
<rect x="431" y="22" width="26" height="1" fill="#ffffff" shape-rendering="crispEdges"/>
<rect x="456" y="0" width="1" height="23" fill="#ffffff" shape-rendering="crispEdges"/>
<path d="M439.5 6.5 V19.5 M437.3 17.5 H451.0" stroke="#555" stroke-width="1.3" fill="none"/>
<path d="M437.5 8.5 L439.5 5.8 L441.5 8.5 Z" fill="#555"/>
<path d="M450.0 15.5 L452.5 17.5 L450.0 19.5 Z" fill="#555"/>
<path d="M444.3 8.2 L448.3 11.4 L444.3 14.6 Z" fill="#50e050" stroke="#10a010" stroke-width="1"/>
<rect x="459" y="0" width="25" height="22" fill="#f8f8f8" shape-rendering="crispEdges"/>
<rect x="459" y="0" width="25" height="1" fill="#a0a0a0" shape-rendering="crispEdges"/>
<rect x="459" y="0" width="1" height="22" fill="#a0a0a0" shape-rendering="crispEdges"/>
<rect x="459" y="22" width="26" height="1" fill="#ffffff" shape-rendering="crispEdges"/>
<rect x="484" y="0" width="1" height="23" fill="#ffffff" shape-rendering="crispEdges"/>
<path d="M467.5 6.5 V19.5 M465.3 17.5 H479.0" stroke="#555" stroke-width="1.3" fill="none"/>
<path d="M465.5 8.5 L467.5 5.8 L469.5 8.5 Z" fill="#555"/>
<path d="M478.0 15.5 L480.5 17.5 L478.0 19.5 Z" fill="#555"/>
<rect x="473" y="6" width="1.3" height="9.6" fill="#1a70a8"/>
<path d="M474.5 11.4 L477.5 9 V10.6 H479.2 V12.2 H477.5 V13.8 Z" fill="#f06010" stroke="#a03000" stroke-width="0.6"/>
<rect x="488" y="1" width="1" height="21" fill="#a0a0a0" shape-rendering="crispEdges"/>
<rect x="489" y="1" width="1" height="21" fill="#ffffff" shape-rendering="crispEdges"/>
<path d="M498.5 4.5 H506 L509.5 8 V17.5 H498.5 Z" fill="#fff" stroke="#666" stroke-width="1"/>
<path d="M506 4.5 V8 H509.5" fill="#fff" stroke="#666" stroke-width="1"/>
<path d="M501.8 7 C500.5 8 501 12 501.5 16" stroke="#6a5a3a" stroke-width="0.9" fill="none"/>
<path d="M506.5 10.5 H509.5 V14.5 H513.5 V17.5 H509.5 V21.5 H506.5 V17.5 H502.5 V14.5 H506.5 Z" fill="#22e030" stroke="#009400" stroke-width="1"/>
<path d="M519.5 11 H525.5 L522.5 14 Z" fill="#000"/>
<circle cx="544" cy="11.7" r="7.2" fill="#ffffff" stroke="#1a6ad0" stroke-width="2"/>
<path d="M543.5 7.5 V12 H547" stroke="#222" stroke-width="1.2" fill="none"/>
<circle cx="544.00" cy="6.40" r="0.45" fill="#888"/>
<circle cx="546.65" cy="7.11" r="0.45" fill="#888"/>
<circle cx="548.59" cy="9.05" r="0.45" fill="#888"/>
<circle cx="549.30" cy="11.70" r="0.45" fill="#888"/>
<circle cx="548.59" cy="14.35" r="0.45" fill="#888"/>
<circle cx="546.65" cy="16.29" r="0.45" fill="#888"/>
<circle cx="544.00" cy="17.00" r="0.45" fill="#888"/>
<circle cx="541.35" cy="16.29" r="0.45" fill="#888"/>
<circle cx="539.41" cy="14.35" r="0.45" fill="#888"/>
<circle cx="538.70" cy="11.70" r="0.45" fill="#888"/>
<circle cx="539.41" cy="9.05" r="0.45" fill="#888"/>
<circle cx="541.35" cy="7.11" r="0.45" fill="#888"/>
<path d="M558.5 11 H564.5 L561.5 14 Z" fill="#000"/>
<rect x="575.5" y="5.3" width="15" height="13.2" fill="#ffffff" stroke="#2a68c0" stroke-width="1"/>
<rect x="576" y="5.8" width="14" height="2" fill="#5a90d8"/>
<rect x="576" y="12" width="14" height="1" fill="#2a68c0"/>
<path d="M577 11 L580 10.2 L582.5 9.3 L585 10 L589 8.8" stroke="#a02010" stroke-width="1.1" fill="none"/>
<path d="M577 16.5 L579.5 15.5 L582 16.2 L585 14 L588.5 16.2" stroke="#10a020" stroke-width="1.1" fill="none"/>
<path d="M597.5 11 H603.5 L600.5 14 Z" fill="#000"/>
<rect x="609" y="0" width="1" height="24" fill="#a0a0a0" shape-rendering="crispEdges"/>
<rect x="610" y="0" width="1" height="24" fill="#ffffff" shape-rendering="crispEdges"/>
<rect x="613" y="2" width="3" height="1" fill="#a8a8a8" shape-rendering="crispEdges"/>
<rect x="613" y="4" width="3" height="1" fill="#a8a8a8" shape-rendering="crispEdges"/>
<rect x="613" y="6" width="3" height="1" fill="#a8a8a8" shape-rendering="crispEdges"/>
<rect x="613" y="8" width="3" height="1" fill="#a8a8a8" shape-rendering="crispEdges"/>
<rect x="613" y="10" width="3" height="1" fill="#a8a8a8" shape-rendering="crispEdges"/>
<rect x="613" y="12" width="3" height="1" fill="#a8a8a8" shape-rendering="crispEdges"/>
<rect x="613" y="14" width="3" height="1" fill="#a8a8a8" shape-rendering="crispEdges"/>
<rect x="613" y="16" width="3" height="1" fill="#a8a8a8" shape-rendering="crispEdges"/>
<rect x="613" y="18" width="3" height="1" fill="#a8a8a8" shape-rendering="crispEdges"/>
<rect x="613" y="20" width="3" height="1" fill="#a8a8a8" shape-rendering="crispEdges"/>
<rect x="619" y="0" width="25" height="22" fill="#f8f8f8" shape-rendering="crispEdges"/>
<rect x="619" y="0" width="25" height="1" fill="#a0a0a0" shape-rendering="crispEdges"/>
<rect x="619" y="0" width="1" height="22" fill="#a0a0a0" shape-rendering="crispEdges"/>
<rect x="619" y="22" width="26" height="1" fill="#ffffff" shape-rendering="crispEdges"/>
<rect x="644" y="0" width="1" height="23" fill="#ffffff" shape-rendering="crispEdges"/>
<path d="M627.5 5.2 L627.5 16.5 L630 14.2 L632.5 19.2 L634.2 18.4 L631.8 13.4 L635.2 13.2 Z" fill="#444"/>
<path d="M652.5 12.5 H667 M659.8 5 V20" stroke="#555" stroke-width="1.1"/>
<rect x="659" y="11.7" width="1.6" height="1.6" fill="#f0f0f0"/>
<rect x="676" y="1" width="1" height="21" fill="#a0a0a0" shape-rendering="crispEdges"/>
<rect x="677" y="1" width="1" height="21" fill="#ffffff" shape-rendering="crispEdges"/>
<rect x="693" y="6" width="1.4" height="13" fill="#555"/>
<rect x="716" y="11.8" width="12.5" height="1.4" fill="#555"/>
<path d="M744 19 L756 7" stroke="#555" stroke-width="1.2"/>
<path d="M769.8 14.2 L781.6 5.2 M772 19 L783.8 10" stroke="#555" stroke-width="1.1" fill="none"/>
<path d="M772.6 12 L774 17.2 M775.8 9.6 L777.2 14.8 M779 7.2 L780.4 12.4 M781.6 4 L782.6 8" stroke="#555" stroke-width="1" fill="none"/>
<path d="M786.6 15.4 H783 V20.8 H786.6 M783 18.1 H786" stroke="#444" stroke-width="1.2" fill="none"/>
<path d="M799 5.5 H812.5" stroke="#666" stroke-width="1" stroke-dasharray="1 1" shape-rendering="crispEdges"/>
<path d="M799 9 H812.5" stroke="#666" stroke-width="1" stroke-dasharray="1 1" shape-rendering="crispEdges"/>
<path d="M799 12.5 H812.5" stroke="#666" stroke-width="1" stroke-dasharray="1 1" shape-rendering="crispEdges"/>
<path d="M799 16.5 H808" stroke="#666" stroke-width="1" stroke-dasharray="1 1" shape-rendering="crispEdges"/>
<path d="M810 21 V15.6 H813.4 M810 18.2 H812.8" stroke="#444" stroke-width="1.3" fill="none"/>
<text x="829.3" y="17" font-size="11.5" font-weight="bold" fill="#555" font-family='Liberation Sans'>A</text>
<rect x="855.5" y="5.5" width="12" height="13" fill="none" stroke="#777" stroke-width="1" stroke-dasharray="1 1" shape-rendering="crispEdges"/>
<text x="857.3" y="16.8" font-size="11" font-weight="bold" fill="#555" font-family='Liberation Sans'>T</text>
<path d="M883.5 9 L886.5 6 L889.5 9 L886.5 12 Z" fill="#555"/>
<path d="M890.5 16 L893.5 13 L896.5 16 L893.5 19 Z" fill="#555"/>
<path d="M885 12.5 L887.5 15.5 L891 10.5" stroke="#555" stroke-width="1.2" fill="none"/>
<path d="M903.5 11 H909.5 L906.5 14 Z" fill="#000"/>
<rect x="915" y="0" width="1" height="24" fill="#a0a0a0" shape-rendering="crispEdges"/>
<rect x="916" y="0" width="1" height="24" fill="#ffffff" shape-rendering="crispEdges"/>
<rect x="919" y="2" width="3" height="1" fill="#a8a8a8" shape-rendering="crispEdges"/>
<rect x="919" y="4" width="3" height="1" fill="#a8a8a8" shape-rendering="crispEdges"/>
<rect x="919" y="6" width="3" height="1" fill="#a8a8a8" shape-rendering="crispEdges"/>
<rect x="919" y="8" width="3" height="1" fill="#a8a8a8" shape-rendering="crispEdges"/>
<rect x="919" y="10" width="3" height="1" fill="#a8a8a8" shape-rendering="crispEdges"/>
<rect x="919" y="12" width="3" height="1" fill="#a8a8a8" shape-rendering="crispEdges"/>
<rect x="919" y="14" width="3" height="1" fill="#a8a8a8" shape-rendering="crispEdges"/>
<rect x="919" y="16" width="3" height="1" fill="#a8a8a8" shape-rendering="crispEdges"/>
<rect x="919" y="18" width="3" height="1" fill="#a8a8a8" shape-rendering="crispEdges"/>
<rect x="919" y="20" width="3" height="1" fill="#a8a8a8" shape-rendering="crispEdges"/>
<rect x="1065" y="0" width="25" height="22" fill="#f8f8f8" shape-rendering="crispEdges"/>
<rect x="1065" y="0" width="25" height="1" fill="#a0a0a0" shape-rendering="crispEdges"/>
<rect x="1065" y="0" width="1" height="22" fill="#a0a0a0" shape-rendering="crispEdges"/>
<rect x="1065" y="22" width="26" height="1" fill="#ffffff" shape-rendering="crispEdges"/>
<rect x="1090" y="0" width="1" height="23" fill="#ffffff" shape-rendering="crispEdges"/>
<text x="929.9" y="16.2" font-size="10" fill="#3a3a3a" textLength="13.5" lengthAdjust="spacingAndGlyphs" font-family='Liberation Sans'>M1</text>
<text x="957.9" y="16.2" font-size="10" fill="#3a3a3a" textLength="13.8" lengthAdjust="spacingAndGlyphs" font-family='Liberation Sans'>M5</text>
<text x="983.9" y="16.2" font-size="10" fill="#3a3a3a" textLength="18.8" lengthAdjust="spacingAndGlyphs" font-family='Liberation Sans'>M15</text>
<text x="1011.6999999999999" y="16.2" font-size="10" fill="#3a3a3a" textLength="19" lengthAdjust="spacingAndGlyphs" font-family='Liberation Sans'>M30</text>
<text x="1043.2" y="16.2" font-size="10" fill="#3a3a3a" textLength="12.5" lengthAdjust="spacingAndGlyphs" font-family='Liberation Sans'>H1</text>
<text x="1070.2" y="16.2" font-size="10" fill="#3a3a3a" textLength="13.2" lengthAdjust="spacingAndGlyphs" font-family='Liberation Sans'>H4</text>
<text x="1099.4" y="16.2" font-size="10" fill="#3a3a3a" textLength="12.5" lengthAdjust="spacingAndGlyphs" font-family='Liberation Sans'>D1</text>
<text x="1126.2" y="16.2" font-size="10" fill="#3a3a3a" textLength="15.6" lengthAdjust="spacingAndGlyphs" font-family='Liberation Sans'>W1</text>
<text x="1153.2" y="16.2" font-size="10" fill="#3a3a3a" textLength="15.6" lengthAdjust="spacingAndGlyphs" font-family='Liberation Sans'>MN</text>
<rect x="1176" y="0" width="1" height="24" fill="#a0a0a0" shape-rendering="crispEdges"/>
<rect x="1177" y="0" width="1" height="24" fill="#ffffff" shape-rendering="crispEdges"/>
<circle cx="1646.4" cy="9.4" r="3.9" fill="#f4f4ff" stroke="#1a5ad0" stroke-width="1.3"/>
<path d="M1643.8 12.2 L1639.8 16.4" stroke="#1a5ad0" stroke-width="2.2" stroke-linecap="round"/>
<ellipse cx="1668.5" cy="14" rx="5.2" ry="4.6" fill="#e4e6ee" stroke="#a8a8a8" stroke-width="0.9"/>
<path d="M1666.5 18 L1666 20.5 L1668.8 18.4" fill="#c8cad0" stroke="#999" stroke-width="0.7"/>
<defs><linearGradient id="bdg" x1="0" y1="0" x2="0" y2="1"><stop offset="0" stop-color="#ec5a36"/><stop offset="1" stop-color="#d02410"/></linearGradient></defs>
<circle cx="1677.4" cy="9.2" r="8" fill="url(#bdg)"/>
<text x="1676.6" y="14" font-size="13" font-weight="bold" text-anchor="middle" fill="#fff" font-family='Liberation Serif'>1</text>
</g>
</svg></body></html>
